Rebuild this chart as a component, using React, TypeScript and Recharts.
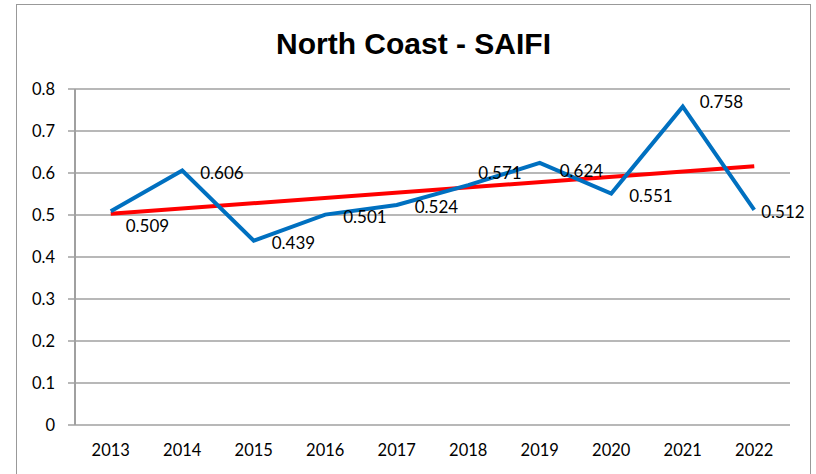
import React from "react";
import {
  LineChart,
  Line,
  XAxis,
  YAxis,
  CartesianGrid,
  LabelList,
} from "recharts";

const years = ["2013", "2014", "2015", "2016", "2017", "2018", "2019", "2020", "2021", "2022"];
const saifi = [0.509, 0.606, 0.439, 0.501, 0.524, 0.571, 0.624, 0.551, 0.758, 0.512];
const trendEnds = [0.503, 0.616];
const yTicks = [0, 0.1, 0.2, 0.3, 0.4, 0.5, 0.6, 0.7, 0.8];

const lastIdx = years.length - 1;
const data = years.map((year, i) => ({
  idx: i,
  year,
  value: saifi[i],
  trend: i === 0 ? trendEnds[0] : i === lastIdx ? trendEnds[1] : null,
}));
const labelTicks = years.map((_, i) => i);
const boundaryTicks = years.map((_, i) => i - 0.5).concat([years.length - 0.5]);

const FONT = "Lato, 'Open Sans', sans-serif";
const GRID = "#a0a0a0";

// label nudges (dx, dy) relative to the point, by index; default places the label to the right
const NUDGE: Record<number, [number, number]> = {
  0: [15, 14],
  5: [10, -13],
  6: [20, 8],
  8: [17, -5],
  9: [7, 2],
};

const ValueLabel = (props: any) => {
  const { x, y, value, index } = props;
  const [dx, dy] = NUDGE[index] ?? [18, 2];
  return (
    <text
      x={x + dx}
      y={y + dy}
      fill="#000"
      fontSize={17}
      fontFamily={FONT}
      textAnchor="start"
      dominantBaseline="central"
    >
      {value.toFixed(3)}
    </text>
  );
};

export default function App() {
  return (
    <div
      style={{
        position: "absolute",
        left: 0,
        top: 0,
        width: 816,
        height: 474,
        background: "#fff",
        overflow: "hidden",
      }}
    >
      <div
        style={{
          position: "absolute",
          left: 16,
          top: 4,
          width: 795,
          height: 500,
          border: "1.5px solid #999",
          boxSizing: "border-box",
        }}
      />
      <div
        style={{
          position: "absolute",
          left: 17,
          width: 793,
          top: 22,
          textAlign: "center",
          fontFamily: "'Liberation Sans', Arial, sans-serif",
          fontWeight: 700,
          fontSize: 30,
          lineHeight: "44px",
          color: "#000",
        }}
      >
        North Coast - SAIFI
      </div>
      <div style={{ position: "absolute", left: 0, top: 0 }}>
        <LineChart
          width={816}
          height={474}
          data={data}
          margin={{ top: 89, right: 26, bottom: 0, left: 0 }}
        >
          <CartesianGrid vertical={false} stroke={GRID} strokeWidth={1.5} />
          <XAxis
            xAxisId="bounds"
            type="number"
            dataKey="idx"
            domain={[-0.5, 9.5]}
            ticks={boundaryTicks}
            tick={false}
            tickSize={6}
            tickLine={{ stroke: GRID, strokeWidth: 1.5 }}
            axisLine={{ stroke: GRID, strokeWidth: 2 }}
            height={0}
            allowDataOverflow
          />
          <XAxis
            xAxisId="labels"
            type="number"
            dataKey="idx"
            domain={[-0.5, 9.5]}
            ticks={labelTicks}
            tickFormatter={(v: number) => years[v]}
            tickLine={false}
            axisLine={false}
            tickSize={0}
            tickMargin={19}
            height={49}
            interval={0}
            tick={{ fill: "#000", fontSize: 16.5, fontFamily: FONT }}
            allowDataOverflow
          />
          <YAxis
            domain={[0, 0.8]}
            ticks={yTicks}
            tickFormatter={(v: number) => (v === 0 ? "0" : v.toFixed(1))}
            width={75}
            tickSize={7}
            tickMargin={13}
            tickLine={{ stroke: GRID, strokeWidth: 1.5 }}
            axisLine={{ stroke: GRID, strokeWidth: 2 }}
            tick={{ fill: "#000", fontSize: 16.5, fontFamily: FONT }}
            interval={0}
          />
          <Line
            xAxisId="labels"
            type="linear"
            dataKey="trend"
            stroke="#FF0000"
            strokeWidth={4}
            dot={false}
            connectNulls
            isAnimationActive={false}
          />
          <Line
            xAxisId="labels"
            type="linear"
            dataKey="value"
            stroke="#0070C0"
            strokeWidth={4}
            dot={false}
            isAnimationActive={false}
          >
            <LabelList dataKey="value" content={ValueLabel} />
          </Line>
        </LineChart>
      </div>
    </div>
  );
}
